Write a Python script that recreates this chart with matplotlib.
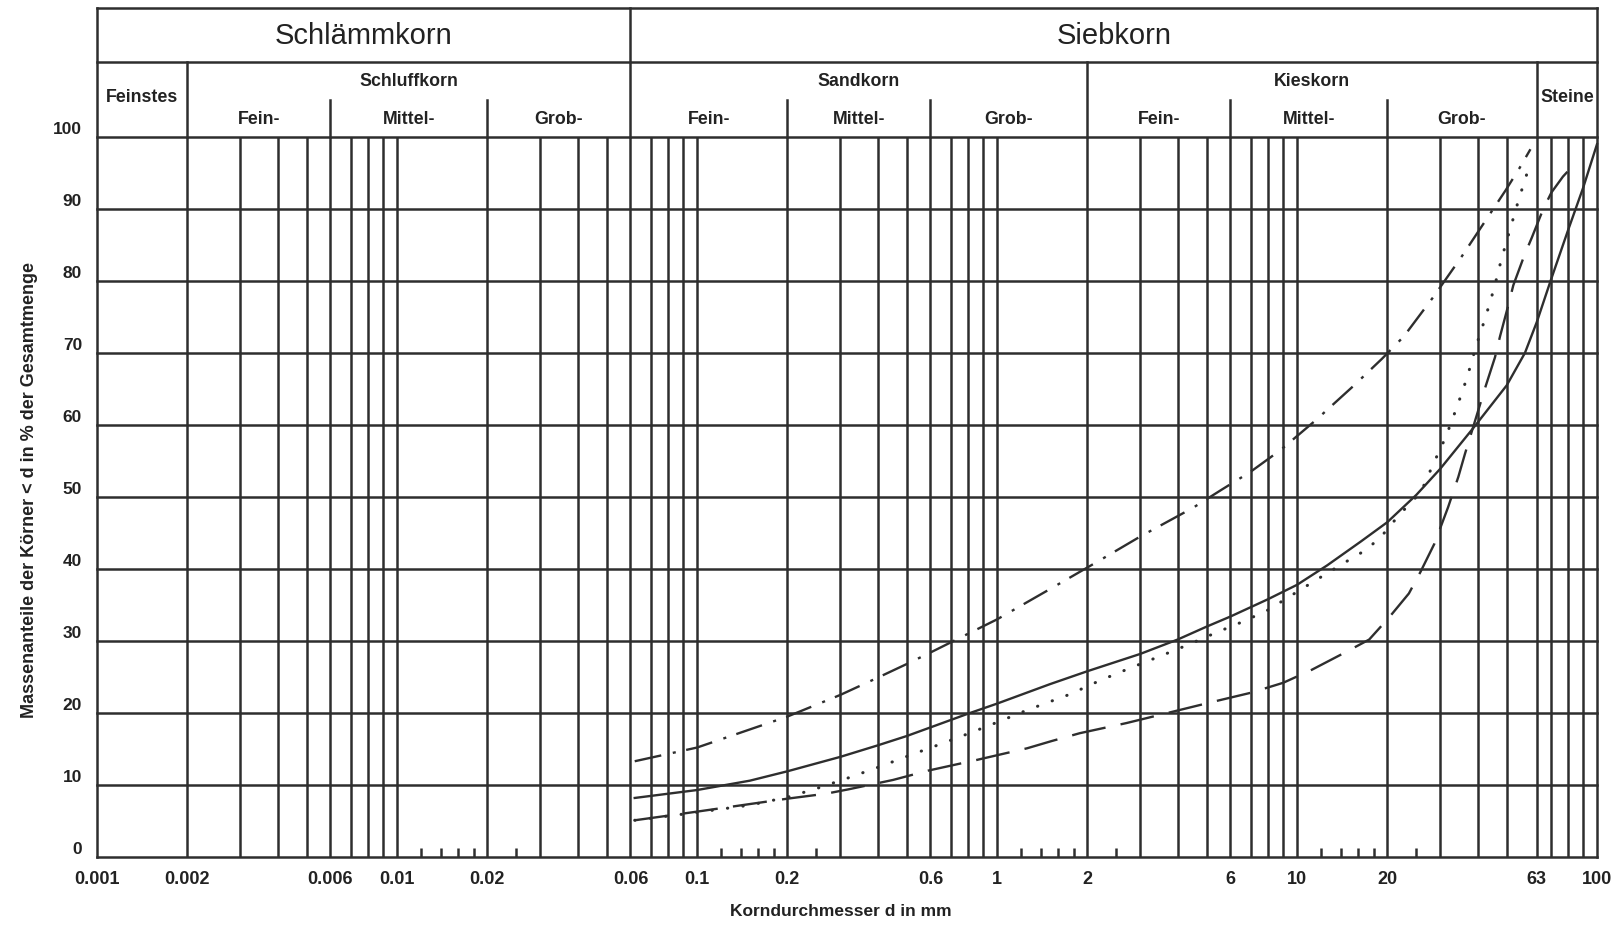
import numpy as np
import matplotlib.pyplot as plt
from matplotlib.transforms import blended_transform_factory

plt.rcParams['font.family'] = ['Liberation Sans', 'DejaVu Sans']

# ---- curve data: grain size d [mm] vs passing [%] ----
solid_d = [0.062, 0.1, 0.15, 0.2, 0.3, 0.4, 0.5, 0.6, 0.8, 1.0, 1.5, 2.0, 3.0, 4.0, 5.0, 6.0, 8.0, 10,
           12.6, 16.3, 20, 25, 30, 38.9, 50, 57.5, 63, 70, 80, 90, 100]
solid_p = [8.2, 9.3, 10.6, 11.9, 13.9, 15.5, 16.8, 18.0, 19.9, 21.3, 24.0, 25.8, 28.2, 30.2, 32.0, 33.4, 35.8, 37.8,
           40.5, 43.8, 46.5, 50.3, 53.9, 59.7, 65.5, 70.0, 74.3, 80.0, 87.0, 93.0, 99.0]

dotted_d = [0.062, 0.1, 0.15, 0.2, 0.25, 0.32, 0.41, 0.51, 0.65, 0.81, 1.0, 1.26, 1.75, 2.2, 2.8, 3.5, 4.35,
            5.4, 6.7, 8, 9.3, 11.3, 13.9, 16.9, 19, 21.9, 25.9, 28.4, 31.3, 34.2, 36.9, 39.5, 42.6, 45.4,
            48, 51.5, 55, 57.5, 60]
dotted_p = [5.1, 6.2, 7.2, 8.3, 9.5, 11.0, 12.6, 14.1, 15.7, 17.2, 18.7, 20.4, 22.6, 24.5, 26.3, 27.9, 29.5,
            31.2, 32.8, 34.3, 36.0, 38.2, 40.5, 42.6, 44.4, 47.5, 50.7, 54.5, 58.3, 62.6, 66.6, 70.9, 75.1, 79.0,
            83.0, 87.4, 91.5, 94.0, 96.5]

dash_d = [0.062, 0.1, 0.2, 0.27, 0.32, 0.45, 0.59, 0.86, 1.26, 1.52, 1.89, 2.7, 3.7, 5.3, 7, 9, 11.2, 14.3,
          17.4, 20.3, 23.6, 25.8, 28.7, 31.9, 34.5, 36.3, 39.5, 42.4, 45.7, 47.5, 50.6, 52.6, 57.3, 60.6,
          66.2, 70.5, 77, 84.4]
dash_p = [5.1, 6.3, 8.1, 8.8, 9.4, 10.7, 12.0, 13.5, 15.1, 16.1, 17.2, 18.6, 20.0, 21.6, 22.8, 24.2, 26.0, 28.3,
          30.2, 33.3, 36.6, 39.6, 43.5, 48.6, 52.8, 56.0, 61.0, 65.2, 69.4, 72.3, 76.6, 79.4, 83.6, 86.0,
          90.0, 92.3, 94.5, 96.3]

dashdot_d = [0.062, 0.1, 0.2, 0.3, 0.4, 0.5, 0.6, 0.8, 1.0, 1.5, 2.2, 3.0, 4.5, 5.6, 7, 8.8, 11.5, 15.4,
             19.2, 22.7, 28.5, 35.4, 44.6, 49.6, 55.2, 60]
dashdot_p = [13.3, 15.2, 19.5, 22.5, 24.9, 26.8, 28.4, 31.0, 33.0, 37.2, 41.2, 44.5, 48.5, 51.0, 53.5, 56.5, 60.6,
             65.4, 69.2, 72.3, 77.8, 83.4, 89.7, 92.6, 95.7, 98.3]

# ---- grid / labels ----
grid_x = [0.002, 0.003, 0.004, 0.005, 0.006, 0.007, 0.008, 0.009, 0.01,
          0.02, 0.03, 0.04, 0.05, 0.06, 0.07, 0.08, 0.09, 0.1,
          0.2, 0.3, 0.4, 0.5, 0.6, 0.7, 0.8, 0.9, 1,
          2, 3, 4, 5, 6, 7, 8, 9, 10,
          20, 30, 40, 50, 63, 70, 80, 90]
minor_x = [0.012, 0.014, 0.016, 0.018, 0.025, 0.12, 0.14, 0.16, 0.18, 0.25,
           1.2, 1.4, 1.6, 1.8, 2.5, 12, 14, 16, 18, 25]
xtick_vals = [0.001, 0.002, 0.006, 0.01, 0.02, 0.06, 0.1, 0.2, 0.6, 1, 2, 6, 10, 20, 63, 100]
xtick_lbls = ['0.001', '0.002', '0.006', '0.01', '0.02', '0.06', '0.1', '0.2', '0.6', '1', '2', '6',
              '10', '20', '63', '100']
ytick_vals = list(range(0, 101, 10))

main_div = [0.002, 2, 63]            # full height of lower header band
sub_div = [0.006, 0.02, 0.2, 0.6, 6, 20]
top_groups = [('Schlämmkorn', 0.001, 0.06), ('Siebkorn', 0.06, 100)]
mid_groups = [('Schluffkorn', 0.002, 0.06), ('Sandkorn', 0.06, 2), ('Kieskorn', 2, 63)]
single_groups = [('Feinstes', 0.001, 0.002), ('Steine', 63, 100)]
sub_groups = [('Fein-', 0.002, 0.006), ('Mittel-', 0.006, 0.02), ('Grob-', 0.02, 0.06),
              ('Fein-', 0.06, 0.2), ('Mittel-', 0.2, 0.6), ('Grob-', 0.6, 2),
              ('Fein-', 2, 6), ('Mittel-', 6, 20), ('Grob-', 20, 63)]

INK = '#2e2e2e'
TXT = '#222222'
LW = 1.8

W, H = 1618, 931
fig = plt.figure(figsize=(W / 100, H / 100), dpi=100)
X0, X1 = 97, 1597
Y0, Y1 = 857, 137
ax = fig.add_axes([X0 / W, (H - Y0) / H, (X1 - X0) / W, (Y0 - Y1) / H])
ax.set_xscale('log')
ax.set_xlim(0.001, 100)
ax.set_ylim(0, 100)
ax.axis('off')


def ay(py):
    return (Y0 - py) / (Y0 - Y1)


def gmid(a, b):
    return np.sqrt(a * b)


tr = blended_transform_factory(ax.transData, ax.transAxes)
ytr = blended_transform_factory(ax.transAxes, ax.transData)

# grid
for v in grid_x:
    ax.plot([v, v], [0, 100], color=INK, lw=LW, clip_on=False, solid_capstyle='butt')
for p in ytick_vals:
    ax.plot([0.001, 100], [p, p], color=INK, lw=LW, clip_on=False, solid_capstyle='projecting')
for v in minor_x:
    ax.plot([v, v], [0, 1.3], color=INK, lw=LW, clip_on=False, solid_capstyle='butt')

# header frame
for py in [8, 62]:
    ax.plot([0.001, 100], [ay(py)] * 2, transform=tr, color=INK, lw=LW, clip_on=False,
            solid_capstyle='projecting')
for v in [0.001, 100]:
    ax.plot([v, v], [0, ay(8)], transform=tr, color=INK, lw=LW, clip_on=False)
ax.plot([0.06, 0.06], [1, ay(8)], transform=tr, color=INK, lw=LW, clip_on=False)
for v in main_div:
    ax.plot([v, v], [1, ay(62)], transform=tr, color=INK, lw=LW, clip_on=False)
for v in sub_div:
    ax.plot([v, v], [1, ay(100)], transform=tr, color=INK, lw=LW, clip_on=False)

for name, a, b in top_groups:
    ax.text(gmid(a, b), ay(36), name, transform=tr, ha='center', va='center', fontsize=21, color=TXT)
for name, a, b in mid_groups:
    ax.text(gmid(a, b), ay(82), name, transform=tr, ha='center', va='center', fontsize=12.8,
            fontweight='bold', color=TXT)
for name, a, b in single_groups:
    ax.text(gmid(a, b), ay(98), name, transform=tr, ha='center', va='center', fontsize=12.8,
            fontweight='bold', color=TXT)
for name, a, b in sub_groups:
    ax.text(gmid(a, b), ay(119), name, transform=tr, ha='center', va='center', fontsize=12.8,
            fontweight='bold', color=TXT)

# tick labels
for p in ytick_vals:
    ax.text(-0.010, p + 1.0, str(p), transform=ytr, ha='right', va='center', fontsize=12.5,
            fontweight='bold', color=TXT)
for v, s in zip(xtick_vals, xtick_lbls):
    ax.text(v, ay(879), s, transform=tr, ha='center', va='center', fontsize=13,
            fontweight='bold', color=TXT)

ax.text(0.496, ay(912), 'Korndurchmesser d in mm', transform=ax.transAxes, ha='center', va='center',
        fontsize=12.5, fontweight='bold', color=TXT)
ax.text(-0.045, 0.51, 'Massenanteile der Körner < d in % der Gesamtmenge', transform=ax.transAxes,
        rotation=90, ha='center', va='center', fontsize=13, fontweight='bold', color=TXT)

# curves
ax.plot(solid_d, solid_p, color=INK, lw=1.7, clip_on=False)
ax.plot(dotted_d, dotted_p, color=INK, lw=2.2, linestyle=(0, (0.1, 5.0)), dash_capstyle='round',
        clip_on=False)
ax.plot(dash_d, dash_p, color=INK, lw=1.7, linestyle=(0, (14.5, 6.5)), clip_on=False)
ax.plot(dashdot_d, dashdot_p, color=INK, lw=1.7, linestyle=(0, (11.5, 5.0, 1.3, 4.5)), clip_on=False)

fig.savefig('out.png', dpi=100, facecolor='white')
